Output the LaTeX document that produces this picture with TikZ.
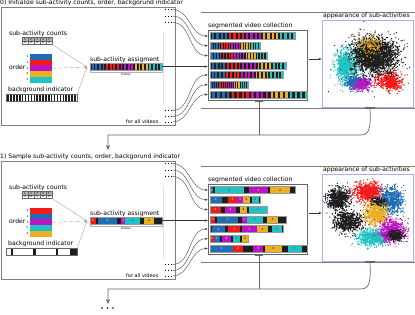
\documentclass[tikz,border=0pt]{standalone}
\usepackage{fontspec}
\setmainfont{DejaVu Sans}
\usetikzlibrary{arrows.meta}
\definecolor{c0}{HTML}{1E1E1E}
\definecolor{c1}{HTML}{1F6EB5}
\definecolor{c2}{HTML}{F51A1A}
\definecolor{c3}{HTML}{BC14C2}
\definecolor{c4}{HTML}{EDB022}
\definecolor{c5}{HTML}{1FC3C3}
\definecolor{kek}{HTML}{A8B2E2}
\colorlet{t1}{white}\colorlet{t2}{white}\colorlet{t3}{white}
\colorlet{t4}{black}\colorlet{t5}{black!80}
\tikzset{
  felirat/.style={font=\fontsize{6.1}{7}\selectfont,anchor=base west,inner sep=0pt},
  apro/.style={font=\fontsize{2.8}{3}\selectfont,inner sep=0pt},
  keret/.style={draw=black!50,line width=0.5pt},
  dob/.style={draw=black!60,line width=0.6pt,inner sep=0pt},
  sav/.style={draw=black!40,line width=0.5pt,inner sep=0pt,minimum height=7pt},
  nyil/.style={-{Stealth[length=3pt,width=2.2pt]},draw=black!80,line width=0.35pt},
  halv/.style={-{Stealth[length=2.5pt,width=2.5pt]},draw=black!35,line width=0.4pt},
  vissza/.style={draw=black!60,line width=0.7pt},
  fel/.style={fill=black!60,inner sep=0pt},
}

\begin{document}
\begin{tikzpicture}[x=1pt,y=-1pt]
  \useasboundingbox (0,0) rectangle (415,314);
  \node[felirat] (cima) at (0,4.7) {0) Initialize sub-activity counts, order, backgorund indicator};
  \node[felirat] (cimb) at (0,158.5) {1) Sample sub-activity counts, order, backgorund indicator};

  % 0) striped assignment and videos
  \foreach \xa/\xb/\yy in {90/162/66.5,210/295/36,210/260/45.75,210/267/55.5,210/286/65.25,210/283/75,210/248/84.75,210/307/94.5}{
    \pgfmathsetmacro\w{(\xb-\xa)/40}
    \foreach \k in {0,...,39}{
      \pgfmathtruncatemacro\g{mod(\k,2)==0 ? 0 : 1+int(\k/8)}
      \fill[c\g] ({\xa+\k*\w},{\yy-3.5}) rectangle ({\xa+(\k+1)*\w},{\yy+3.5});
    }
  }
  \foreach \k in {0,...,23}
    \fill[c0] ({7.4+\k*2.9},94) rectangle ++(1.5,7);

  % 1) sampled segments
  \fill[c0] (90,217) rectangle (162,224);
  \foreach \xa/\xb/\s in {90/96/2,98/117/1,121/125/3,125/140/5,144/154/4}{
    \fill[c\s] (\xa,217) rectangle (\xb,224);
    \node[apro,text=t\s] at ({(\xa+\xb)/2},220.5) {\s};
  }
  \foreach \e/\lista [count=\i from 0] in {
      295/{210/213/1,215/244/5,249/268/3,270/290/4},
      260/{210/222/1,228/237/2,237/243/3,243/250/4,252/259/5},
      267/{210/221/2,225/236/3,240/247/4,249/267/5},
      286/{211/215/2,217/238/1,242/247/3,247/263/5,267/278/4},
      283/{212/225/1,228/240/2,242/257/3,257/268/4,272/282/5},
      248/{210/214/2,214/220/1,222/231/3,233/240/5,242/248/4},
      307/{210/233/1,233/243/2,253/263/3,265/282/4,288/302/5}}{
    \pgfmathsetmacro\yy{190+9.75*\i}
    \fill[c0] (210,\yy-3.5) rectangle (\e,\yy+3.5);
    \foreach \xa/\xb/\s in \lista{
      \fill[c\s] (\xa,\yy-3.5) rectangle (\xb,\yy+3.5);
      \node[apro,text=t\s] at ({(\xa+\xb)/2},\yy) {\s};
    }
  }
  \foreach \xa/\xb in {11/13.3,33/35.6,56/58.3,70/77}
    \fill[c0] (\xa,248) rectangle (\xb,255);

  % appearance clouds
  \pgfmathsetseed{3}
  \foreach \ya/\yb/\felho in {
      21/106/{347/65/10/15/700/c5,356/82/10/6/300/c1,362/83/8/5/250/c3,
        388/80/11/8/450/c2,372/47/12/8/200/c4,374/55/19/15/2200/c0,371/58/30/26/200/c0,
        370/45/11/9/130/c4,343/66/5/10/220/c5,391/84/7/4/150/c2,358/86/6/3/100/c3,351/83/5/3/100/c1},
      175/259/{338/198/10/10/650/c0,368/192/12/9/650/c2,391/200/10/11/650/c1,378/202/7/4/200/c0,
        376/214/10/9/600/c4,348/221/13/9/650/c0,372/237/13/7/650/c5,392/230/11/10/650/c3,
        395/235/7/5/250/c0}}{
    \begin{scope}
      \clip (323,\ya) rectangle (412,\yb);
      \foreach \cx/\cy/\sx/\sy/\n/\col in \felho
        \fill[\col] \foreach \k in {1,...,\n}{
          ({\cx+\sx*(rnd+rnd+rnd+rnd-2)},{\cy+\sy*(rnd+rnd+rnd+rnd-2)}) rectangle ++(1,1)};
    \end{scope}
  }

  \foreach \oy/\p/\cnt/\ord in {0/a/{4,4,4,4,4}/{1,2,3,4,5},154/b/{3,11,5,9,8}/{2,1,3,5,4}}{
    \draw[keret] (1,7+\oy) rectangle (175,125+\oy);
    \draw[keret] (201,12.5+\oy) -- (415,12.5+\oy) (201,108+\oy) -- (415,108+\oy);
    \draw[black!12,line width=0.5pt] (163,32+\oy) -- (163,105+\oy);
    % counts, order, background
    \node[felirat] at (9,35.5+\oy) {sub-activity counts};
    \fill[black!30] (22,37.7+\oy) rectangle (52,41+\oy);
    \node[dob,minimum width=30pt,minimum height=6.6pt] (szam\p) at (37,41+\oy) {};
    \draw[black!60,line width=0.3pt] (22,41+\oy) -- (52,41+\oy);
    \foreach \j in {1,...,4}
      \draw[black!60,line width=0.3pt] ({22+6*\j},37.7+\oy) -- ++(0,6.6);
    \foreach \j in {1,...,5}
      \node[apro] at ({19+6*\j},39.35+\oy) {\j};
    \foreach \v [count=\j] in \cnt
      \node[apro] at ({19+6*\j},42.65+\oy) {\v};
    \node[felirat] at (9,69+\oy) {order};
    \foreach \s [count=\j from 0] in \ord{
      \fill[c\s] (30,{54+5.7*\j+\oy}) rectangle ++(22,5.7);
      \node[apro] at (27.5,{56.85+5.7*\j+\oy}) {\s};
    }
    \node[inner sep=0pt,minimum width=22pt,minimum height=28.5pt] (sor\p) at (41,68.25+\oy) {};
    \node[felirat] at (8,91.5+\oy) {background indicator};
    \node[dob,minimum width=71pt,minimum height=7pt] (hat\p) at (41.5,97.5+\oy) {};
    % assignment
    \node[felirat] at (90,61+\oy) {sub-activity assigment};
    \node[sav,minimum width=72pt] (asg\p) at (126,66.5+\oy) {};
    \draw[black!30,line width=0.3pt] (90,70.5+\oy) -- ++(0,1.5) -- (162,72+\oy) -- ++(0,-1.5);
    \node[apro] at (126,74.3+\oy) {frames};
    \coordinate (m\p) at (87,67+\oy);
    \draw[halv] (szam\p.south east) -- (m\p);
    \draw[halv] (hat\p.north east) -- (m\p);
    \draw[halv,dash pattern=on 4pt off 2pt] (sor\p.east) -- (m\p);
    % video collection
    \node[felirat] at (208,27+\oy) {segmented video collection};
    \node[dob,minimum width=99pt,minimum height=70pt] (seg\p) at (257.5,65+\oy) {};
    \foreach \e [count=\i from 0] in {295,260,267,286,283,248,307}
      \node[sav,minimum width={(\e-210)*1pt}] (v\p\i) at ({(210+\e)/2},{36+9.75*\i+\oy}) {};
    \node[felirat] at (323,17+\oy) {appearance of sub-activities};
    \node[draw=kek,line width=0.7pt,inner sep=0pt,minimum width=91pt,minimum height=87pt] (app\p) at (367.5,63.5+\oy) {};
    \node[fel,minimum width=8pt,minimum height=2pt] (st\p) at (259,101+\oy) {};
    \node[fel,minimum width=10pt,minimum height=2pt] (at\p) at (370,108+\oy) {};
    \draw[nyil] ([xshift=1.5pt,yshift=6pt]seg\p.east) -- ([yshift=4.5pt]app\p.west);
    % all videos
    \foreach \d/\yy in {1/9,2/15.5,3/22,4/110,5/116,6/121.5}{
      \foreach \xx in {164.5,167.7,170.9}
        \fill[black] (\xx,\yy+\oy) rectangle ++(1.1,1.1);
      \coordinate (d\p\d) at (172.5,\yy+0.5+\oy);
    }
    \node[felirat,font=\fontsize{5}{6}\selectfont] at (126,123+\oy) {for all videos};
    \foreach \d/\i in {1/0,2/1,3/2,4/4,5/5,6/6}
      \draw[nyil] (d\p\d) to[out=0,in=180] ([xshift=-2pt]v\p\i.west);
    \draw[nyil] (asg\p.east) -- (seg\p.west |- asg\p.east);
    % back to the next step
    \coordinate (ve\p) at (108,150+\oy);
    \draw[vissza] (st\p.south) -- (259,135+\oy);
    \draw[vissza,-{Stealth[length=5pt,width=4pt]}] (at\p.south) .. controls (371,130+\oy) and (369,135+\oy) .. (360,135+\oy) -- (108,135+\oy) -- (ve\p);
  }
  \foreach \xx in {102,107.5,113}
    \fill (\xx,308) circle (0.9);
\end{tikzpicture}
\end{document}
